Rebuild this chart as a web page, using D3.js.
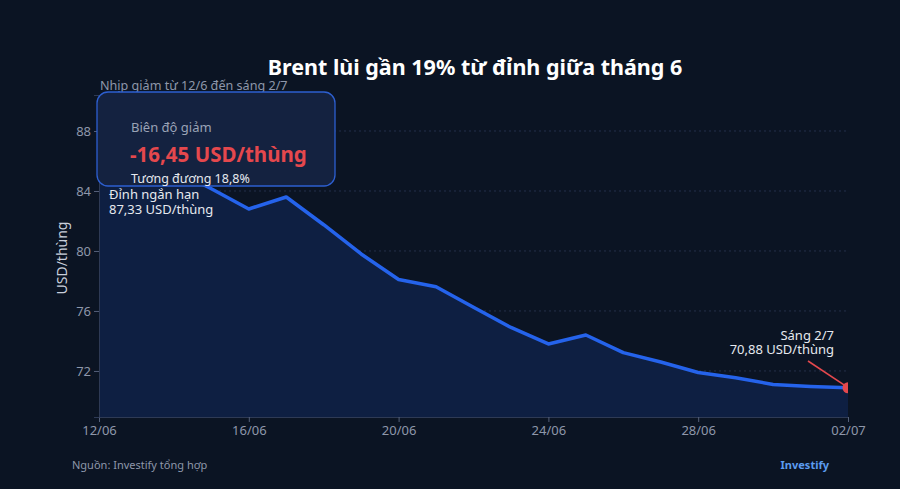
<!DOCTYPE html>
<html><head><meta charset="utf-8">
<script src="https://cdn.jsdelivr.net/npm/d3@7"></script>
<style>
html,body{margin:0;padding:0;background:#0b1423;}
svg{display:block;font-family:"Noto Sans",sans-serif;}
</style></head>
<body><svg id="c" width="900" height="489"></svg>
<script>
const dates = ["12/06","13/06","14/06","15/06","16/06","17/06","18/06","19/06","20/06","21/06","22/06","23/06","24/06","25/06","26/06","27/06","28/06","29/06","30/06","01/07","02/07"];
const prices = [87.33,86.6,85.4,84.15,82.8,83.6,81.75,79.8,78.1,77.62,76.25,74.9,73.8,74.4,73.22,72.6,71.9,71.55,71.1,70.97,70.88];
const xTicks = ["12/06","16/06","20/06","24/06","28/06","02/07"];
const yTicks = [72,76,80,84,88];

const svg = d3.select("#c");
const W = 900, H = 489;
const m = {left:99, right:848, top:95, bottom:417};
svg.append("rect").attr("width",W).attr("height",H).attr("fill","#0b1423");

const x = d3.scalePoint().domain(dates).range([m.left, m.right]);
const y = d3.scaleLinear().domain([68.93, 90.4]).range([m.bottom, m.top]);

svg.append("defs").append("clipPath").attr("id","clip")
  .append("rect").attr("x",m.left).attr("y",m.top).attr("width",m.right-m.left).attr("height",m.bottom-m.top);

// title
svg.append("text").attr("x",475).attr("y",75).attr("text-anchor","middle")
  .attr("fill","#ffffff").attr("font-size",21.5).attr("font-weight",700)
  .text("Brent lùi gần 19% từ đỉnh giữa tháng 6");
svg.append("text").attr("x",100).attr("y",90).attr("fill","#8e97aa").attr("font-size",12.6)
  .text("Nhịp giảm từ 12/6 đến sáng 2/7");

// grid
const g = svg.append("g");
g.selectAll("line.grid").data(yTicks).join("line")
  .attr("x1",m.left).attr("x2",m.right).attr("y1",d=>y(d)).attr("y2",d=>y(d))
  .attr("stroke","#24304a").attr("stroke-width",1).attr("stroke-dasharray","2,3");

// area
const pts = dates.map((d,i)=>({d, v:prices[i]}));
const plot = svg.append("g").attr("clip-path","url(#clip)");
plot.append("path").datum(pts)
  .attr("d", d3.area().x(p=>x(p.d)).y0(m.bottom).y1(p=>y(p.v)))
  .attr("fill","#0e1f42");
plot.append("path").datum(pts)
  .attr("d", d3.line().x(p=>x(p.d)).y(p=>y(p.v)))
  .attr("fill","none").attr("stroke","#2563eb").attr("stroke-width",3.5).attr("stroke-linejoin","round");

// axes
const xAxis = svg.append("g").attr("transform",`translate(0,${m.bottom})`)
  .call(d3.axisBottom(x).tickValues(xTicks).tickSize(5).tickPadding(4));
const yAxis = svg.append("g").attr("transform",`translate(${m.left},0)`)
  .call(d3.axisLeft(y).tickValues(yTicks).tickSize(5).tickPadding(3));
[xAxis,yAxis].forEach(a=>{
  a.select(".domain").attr("stroke","#2e3a55");
  a.selectAll(".tick line").attr("stroke","#55607a");
  a.selectAll(".tick text").attr("fill","#8e97aa").attr("font-size",13).attr("font-family","Noto Sans");
});

svg.append("text").attr("transform","translate(67,258) rotate(-90)").attr("text-anchor","middle")
  .attr("fill","#c9cfdb").attr("font-size",14).text("USD/thùng");

// end marker & annotation
const ex = x(dates[dates.length-1]), ey = y(prices[prices.length-1]);
plot.append("circle").attr("cx",ex).attr("cy",ey).attr("r",5.5).attr("fill","#e5484d");
svg.append("line").attr("x1",808).attr("y1",361).attr("x2",ex-4).attr("y2",ey-3)
  .attr("stroke","#e5484d").attr("stroke-width",1.5);
svg.append("text").attr("x",834).attr("y",340).attr("text-anchor","end").attr("fill","#e6e9ef").attr("font-size",13).text("Sáng 2/7");
svg.append("text").attr("x",834).attr("y",354).attr("text-anchor","end").attr("fill","#e6e9ef").attr("font-size",13).text("70,88 USD/thùng");

// peak annotation
svg.append("text").attr("x",109).attr("y",199).attr("fill","#e6e9ef").attr("font-size",13).text("Đỉnh ngắn hạn");
svg.append("text").attr("x",109).attr("y",214).attr("fill","#e6e9ef").attr("font-size",13).text("87,33 USD/thùng");

// info box
svg.append("rect").attr("x",97).attr("y",92).attr("width",238).attr("height",94).attr("rx",11)
  .attr("fill","#142240").attr("stroke","#2d5fd0").attr("stroke-width",1.3);
svg.append("text").attr("x",131).attr("y",132).attr("fill","#9aa3b6").attr("font-size",13).text("Biên độ giảm");
svg.append("text").attr("x",130).attr("y",162).attr("fill","#e5484d").attr("font-size",20.5).attr("font-weight",700).text("-16,45 USD/thùng");
svg.append("text").attr("x",131).attr("y",183).attr("fill","#e6e9ef").attr("font-size",12.5).text("Tương đương 18,8%");

// footer
svg.append("text").attr("x",72).attr("y",469).attr("fill","#8e97aa").attr("font-size",11).text("Nguồn: Investify tổng hợp");
svg.append("text").attr("x",829).attr("y",469).attr("text-anchor","end").attr("fill","#5b9cf0").attr("font-size",11).attr("font-weight",700).text("Investify");
</script></body></html>
